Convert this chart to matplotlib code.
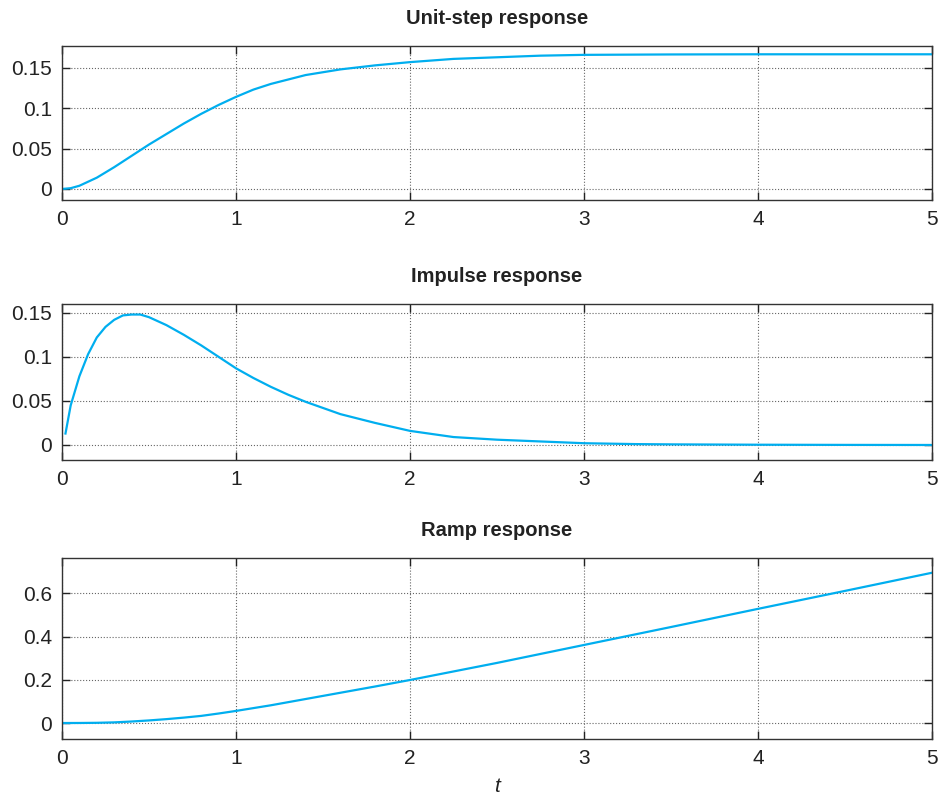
import numpy as np
import matplotlib
matplotlib.use("Agg")
import matplotlib.pyplot as plt

plt.rcParams['font.family'] = ['Liberation Sans', 'DejaVu Sans']

# values
t_step = [0, 0.05, 0.1, 0.2, 0.3, 0.4, 0.5, 0.6, 0.7, 0.8, 0.9, 1.0, 1.1, 1.2, 1.4,
          1.6, 1.8, 2.0, 2.25, 2.5, 2.75, 3.0, 3.5, 4.0, 4.5, 5.0]
y_step = [0, 0.001, 0.004, 0.014, 0.027, 0.041, 0.055, 0.068, 0.081, 0.093,
          0.104, 0.114, 0.123, 0.130, 0.141, 0.148, 0.153, 0.157, 0.161, 0.163,
          0.165, 0.166, 0.1665, 0.1667, 0.1667, 0.1667]

t_imp = [0.02, 0.05, 0.1, 0.15, 0.2, 0.25, 0.3, 0.35, 0.4, 0.45, 0.5, 0.6, 0.7,
         0.8, 0.9, 1.0, 1.1, 1.2, 1.3, 1.4, 1.5, 1.6, 1.8, 2.0, 2.25, 2.5, 2.75,
         3.0, 3.3, 3.5, 4.0, 4.5, 5.0]
y_imp = [0.013, 0.045, 0.078, 0.103, 0.122, 0.134, 0.142, 0.147, 0.148, 0.148,
         0.145, 0.136, 0.125, 0.113, 0.100, 0.087, 0.076, 0.066, 0.057, 0.049,
         0.042, 0.035, 0.025, 0.016, 0.009, 0.006, 0.004, 0.002, 0.001, 0.0007,
         0.0003, 0.0001, 0.0]

t_ramp = [0, 0.1, 0.2, 0.3, 0.4, 0.5, 0.6, 0.7, 0.8, 0.9, 1.0, 1.2, 1.4, 1.6,
          1.8, 2.0, 2.5, 3.0, 3.5, 4.0, 4.5, 5.0]
y_ramp = [0, 0.0002, 0.001, 0.003, 0.007, 0.012, 0.018, 0.025, 0.033, 0.044,
          0.056, 0.082, 0.111, 0.140, 0.169, 0.199, 0.278, 0.361, 0.444, 0.528,
          0.611, 0.695]

titles = ["Unit-step response", "Impulse response", "Ramp response"]
series = [(t_step, y_step), (t_imp, y_imp), (t_ramp, y_ramp)]
yticks = [[0, 0.05, 0.1, 0.15], [0, 0.05, 0.1, 0.15], [0, 0.2, 0.4, 0.6]]
yticklabels = [["0", "0.05", "0.1", "0.15"], ["0", "0.05", "0.1", "0.15"],
               ["0", "0.2", "0.4", "0.6"]]
ylims = [(-0.0136, 0.177), (-0.017, 0.160), (-0.074, 0.763)]

# axes boxes in figure fractions [left, bottom, width, height]
boxes = [[0.0661, 0.7494, 0.9275, 0.193],
         [0.0661, 0.4236, 0.9275, 0.1955],
         [0.0661, 0.0739, 0.9275, 0.2268]]

fig = plt.figure(figsize=(9.38, 7.98), dpi=100)

for i in range(3):
    ax = fig.add_axes(boxes[i])
    t, y = series[i]
    ax.plot(t, y, color='#00AEEF', linewidth=1.6)
    ax.set_xlim(0, 5)
    ax.set_ylim(*ylims[i])
    ax.set_xticks(np.arange(6))
    ax.set_xticklabels([str(k) for k in range(6)])
    ax.set_yticks(yticks[i])
    ax.set_yticklabels(yticklabels[i])
    ax.grid(True, linestyle=':', color='#666666', linewidth=0.8)
    ax.tick_params(direction='in', length=6, width=1, top=True, right=True,
                   labelsize=15, pad=7, colors='#222222')
    for s in ax.spines.values():
        s.set_color('#333333')
        s.set_linewidth(1.0)
    ax.set_title(titles[i], fontsize=14.5, fontweight='bold', pad=16,
                 color='#222222')

ax.set_xlabel("t", fontsize=15, style='italic', labelpad=7, color='#222222')

fig.savefig("out.png", dpi=100)
